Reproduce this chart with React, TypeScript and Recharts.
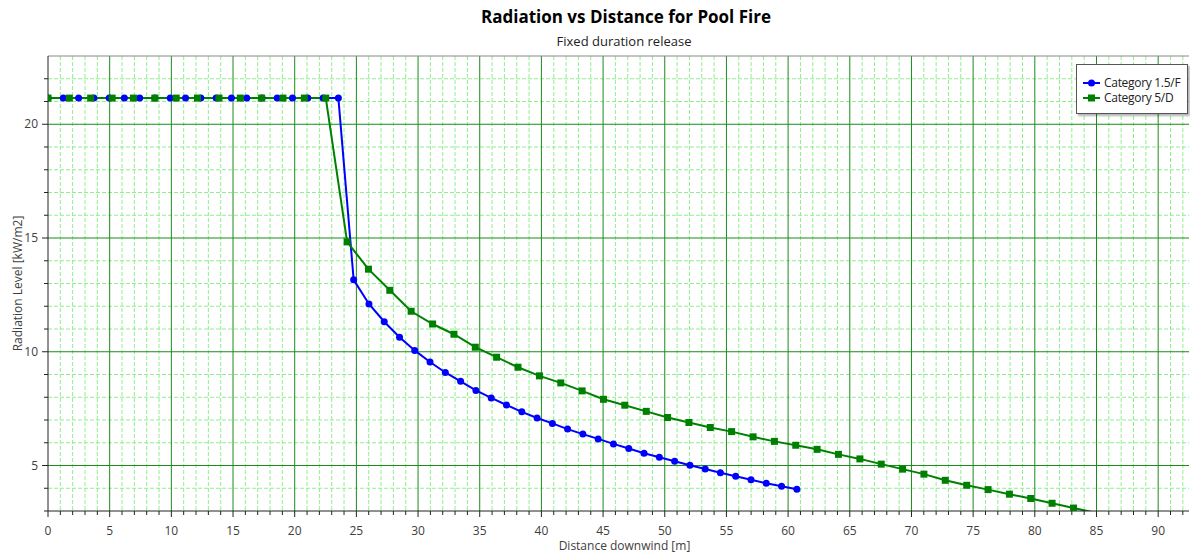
import { LineChart, Line, XAxis, YAxis, CartesianGrid, Legend, ReferenceLine } from 'recharts';

// Category 1.5/F (blue)
const cat15FDistance = [
    0, 1.24, 2.48, 3.72, 4.96, 6.19, 7.43, 8.67, 9.91, 11.15,
    12.39, 13.63, 14.87, 16.11, 17.35, 18.58, 19.82, 21.06, 22.3, 23.54,
    24.78, 26.02, 27.26, 28.5, 29.73, 30.97, 32.21, 33.45, 34.69, 35.93,
    37.17, 38.41, 39.65, 40.89, 42.12, 43.36, 44.6, 45.84, 47.08, 48.32,
    49.56, 50.8, 52.04, 53.28, 54.51, 55.75, 56.99, 58.23, 59.47, 60.71,
];
const cat15FRadiation = [
    21.15, 21.15, 21.15, 21.15, 21.15, 21.15, 21.15, 21.15, 21.15, 21.15,
    21.15, 21.15, 21.15, 21.15, 21.15, 21.15, 21.15, 21.15, 21.15, 21.15,
    13.16, 12.1, 11.32, 10.64, 10.06, 9.55, 9.09, 8.7, 8.3, 7.97,
    7.66, 7.36, 7.09, 6.85, 6.6, 6.38, 6.17, 5.95, 5.75, 5.54,
    5.36, 5.19, 5.01, 4.85, 4.68, 4.53, 4.37, 4.22, 4.09, 3.96,
];

// Category 5/D (green)
const cat5DDistance = [
    0, 1.73, 3.46, 5.2, 6.93, 8.66, 10.39, 12.12, 13.86, 15.59,
    17.32, 19.05, 20.78, 22.52, 24.25, 25.98, 27.71, 29.44, 31.18, 32.91,
    34.64, 36.37, 38.1, 39.84, 41.57, 43.3, 45.03, 46.76, 48.5, 50.23,
    51.96, 53.69, 55.42, 57.16, 58.89, 60.62, 62.35, 64.08, 65.82, 67.55,
    69.28, 71.01, 72.74, 74.48, 76.21, 77.94, 79.67, 81.4, 83.14, 84.87,
];
const cat5DRadiation = [
    21.15, 21.15, 21.15, 21.15, 21.15, 21.15, 21.15, 21.15, 21.15, 21.15,
    21.15, 21.15, 21.15, 21.15, 14.83, 13.63, 12.7, 11.78, 11.22, 10.77,
    10.2, 9.76, 9.32, 8.94, 8.63, 8.28, 7.91, 7.65, 7.38, 7.11,
    6.89, 6.67, 6.49, 6.26, 6.06, 5.89, 5.71, 5.49, 5.29, 5.06,
    4.84, 4.62, 4.35, 4.13, 3.94, 3.74, 3.55, 3.34, 3.13, 2.93,
];

const xTicks = [
    0, 1, 2, 3, 4, 5, 6, 7, 8, 9, 10, 11, 12, 13, 14, 15, 16, 17, 18, 19, 20,
    21, 22, 23, 24, 25, 26, 27, 28, 29, 30, 31, 32, 33, 34, 35, 36, 37, 38, 39, 40,
    41, 42, 43, 44, 45, 46, 47, 48, 49, 50, 51, 52, 53, 54, 55, 56, 57, 58, 59, 60,
    61, 62, 63, 64, 65, 66, 67, 68, 69, 70, 71, 72, 73, 74, 75, 76, 77, 78, 79, 80,
    81, 82, 83, 84, 85, 86, 87, 88, 89, 90, 91, 92,
];
const yTicks = [3, 4, 5, 6, 7, 8, 9, 10, 11, 12, 13, 14, 15, 16, 17, 18, 19, 20, 21, 22];

const xMajor = [5, 10, 15, 20, 25, 30, 35, 40, 45, 50, 55, 60, 65, 70, 75, 80, 85, 90];
const xMinor = xTicks.filter(v => v > 0 && v % 5 !== 0);
const yMajor = [5, 10, 15, 20];
const yMinor = yTicks.filter(v => v > 3 && v % 5 !== 0);

const SERIES = [
    { name: 'Category 1.5/F', color: '#0000ff', shape: 'circle' },
    { name: 'Category 5/D', color: '#008000', shape: 'square' },
];

const blueData = cat15FDistance.map((x, i) => ({ x, y: cat15FRadiation[i] }));
const greenData = cat5DDistance.map((x, i) => ({ x, y: cat5DRadiation[i] }));

const FONT = '"Open Sans", "Noto Sans", sans-serif';
const TEXT = '#404040';

const XTick = ({ x, y, payload }: any) => {
    const major = payload.value % 5 === 0;
    return (
        <g>
            <line x1={x} x2={x} y1={y} y2={y + (major ? 6 : 4)} stroke="#222" />
            {major && (
                <text x={x} y={y + 24} textAnchor="middle" fontSize={12} fill={TEXT} fontFamily={FONT}>
                    {payload.value}
                </text>
            )}
        </g>
    );
};

const YTick = ({ x, y, payload }: any) => {
    const major = payload.value % 5 === 0;
    return (
        <g>
            <line x1={x - (major ? 6 : 4)} x2={x} y1={y} y2={y} stroke="#222" />
            {major && (
                <text x={x - 10} y={y + 4} textAnchor="end" fontSize={12} fill={TEXT} fontFamily={FONT}>
                    {payload.value}
                </text>
            )}
        </g>
    );
};

const SquareDot = ({ cx, cy, payload }: any) => {
    if (payload.y < 3) return <g />;
    return <rect x={cx - 3.5} y={cy - 3.5} width={7} height={7} fill="#008000" />;
};

const LegendBox = () => (
    <div
        style={{
            background: '#fff',
            border: '1px solid #555',
            boxShadow: '2px 2px 2px rgba(0,0,0,0.3)',
            padding: '10px 4px 8px 6px',
            fontFamily: FONT,
            fontSize: 12,
            letterSpacing: -0.3,
            color: '#222',
            lineHeight: '15px',
            whiteSpace: 'nowrap',
        }}
    >
        {SERIES.map(s => (
            <div key={s.name} style={{ display: 'flex', alignItems: 'center' }}>
                <svg width={17} height={10} style={{ marginRight: 4 }}>
                    <line x1={0} x2={17} y1={5} y2={5} stroke={s.color} strokeWidth={2} />
                    {s.shape === 'circle'
                        ? <circle cx={8.5} cy={5} r={3.5} fill={s.color} />
                        : <rect x={5} y={1.5} width={7} height={7} fill={s.color} />}
                </svg>
                {s.name}
            </div>
        ))}
    </div>
);

export default function App() {
    return (
        <div style={{ position: 'absolute', left: 0, top: 0, width: 1190, height: 553, background: '#fff' }}>
            <div style={{ position: 'absolute', top: 5, left: 0, width: 1252, textAlign: 'center', fontFamily: FONT, fontWeight: 700, fontSize: 17, color: '#000' }}>
                Radiation vs Distance for Pool Fire
            </div>
            <div style={{ position: 'absolute', top: 32, left: 0, width: 1248, textAlign: 'center', fontFamily: FONT, fontSize: 13, color: '#222' }}>
                Fixed duration release
            </div>
            <LineChart width={1190} height={553} margin={{ top: 56, right: 1, bottom: 0, left: 0 }}>
                <CartesianGrid horizontal={false} verticalValues={xMinor} stroke="#90ee90" strokeDasharray="4 2" />
                <CartesianGrid vertical={false} horizontalValues={yMinor} stroke="#90ee90" strokeDasharray="4 2" />
                <CartesianGrid horizontal={false} verticalValues={xMajor} stroke="#1a8c1a" />
                <CartesianGrid vertical={false} horizontalValues={yMajor} stroke="#1a8c1a" />
                <XAxis
                    type="number"
                    dataKey="x"
                    domain={[0, 92.5]}
                    ticks={xTicks}
                    interval={0}
                    allowDataOverflow
                    height={42}
                    tickSize={0}
                    tickMargin={0}
                    tickLine={false}
                    tick={<XTick />}
                    stroke="#222"
                    label={{ value: 'Distance downwind [m]', position: 'insideBottom', offset: 3, dx: 6, fontSize: 12, fill: TEXT, fontFamily: FONT }}
                />
                <YAxis
                    type="number"
                    dataKey="y"
                    domain={[3, 23]}
                    ticks={yTicks}
                    interval={0}
                    allowDataOverflow
                    width={48}
                    tickSize={0}
                    tickMargin={0}
                    tickLine={false}
                    tick={<YTick />}
                    stroke="#222"
                    label={{ value: 'Radiation Level [kW/m2]', angle: -90, position: 'insideLeft', offset: 18, fontSize: 12, fill: TEXT, fontFamily: FONT, style: { textAnchor: 'middle' } }}
                />
                <ReferenceLine y={23} stroke="#888" />
                <Line
                    data={blueData}
                    dataKey="y"
                    name={SERIES[0].name}
                    stroke="#0000ff"
                    strokeWidth={2}
                    dot={{ r: 3.5, fill: '#0000ff', stroke: '#0000ff', strokeWidth: 0 }}
                    isAnimationActive={false}
                />
                <Line
                    data={greenData}
                    dataKey="y"
                    name={SERIES[1].name}
                    stroke="#008000"
                    strokeWidth={2}
                    dot={<SquareDot />}
                    isAnimationActive={false}
                />
                <Legend
                    layout="horizontal"
                    verticalAlign="middle"
                    align="center"
                    content={<LegendBox />}
                    wrapperStyle={{ position: 'absolute', left: 1076, top: 64, width: 112, height: 'auto' }}
                />
            </LineChart>
        </div>
    );
}
